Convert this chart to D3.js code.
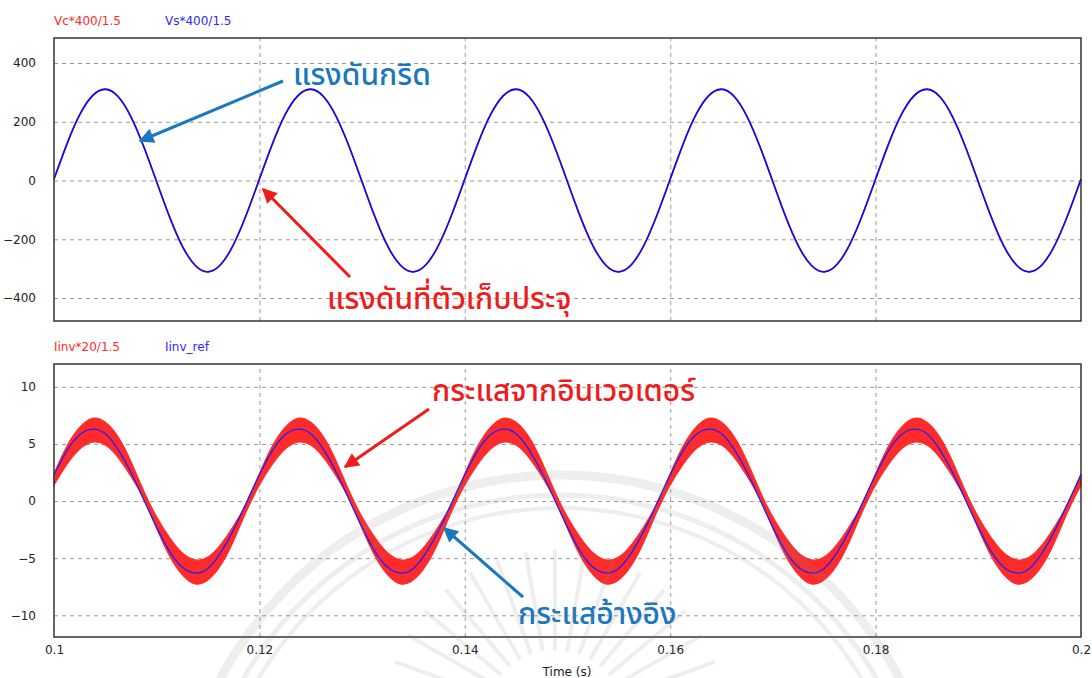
<!DOCTYPE html>
<meta charset="utf-8">
<style>
body { margin: 0; background: #fff; }
text { font-family: "DejaVu Sans", sans-serif; }
.grid line { stroke: #9a9a9a; stroke-dasharray: 4,4; }
.thai { font-family: "Noto Sans Thai", "Noto Sans", "Noto Sans CJK SC", sans-serif; }
</style>
<script src="https://d3js.org/d3.v7.min.js"></script>
<body>
<script>

// sample times: 0.1 s .. 0.2 s every 1.25 ms
var t0 = 0.1, dt = 0.00125;

var timeTicks = [0.1, 0.12, 0.14, 0.16, 0.18, 0.2];
var voltTicks = [400, 200, 0, -200, -400];
var currTicks = [10, 5, 0, -5, -10];

// Vc*400/1.5 and Vs*400/1.5 (V)
var vc = [4,122,223,288,310,286,217,115,-4,-122,-223,-288,-310,-286,-217,-115,
          4,122,223,288,310,286,217,115,-4,-122,-223,-288,-310,-286,-217,-115,
          4,122,223,288,310,286,217,115,-4,-122,-223,-288,-310,-286,-217,-115,
          4,122,223,288,310,286,217,115,-4,-122,-223,-288,-310,-286,-217,-115,
          4,122,223,288,310,286,217,115,-4,-122,-223,-288,-310,-286,-217,-115, 4];
var vs = [5,124,224,289,311,285,216,114,-5,-124,-224,-289,-311,-285,-216,-114,
          5,124,224,289,311,285,216,114,-5,-124,-224,-289,-311,-285,-216,-114,
          5,124,224,289,311,285,216,114,-5,-124,-224,-289,-311,-285,-216,-114,
          5,124,224,289,311,285,216,114,-5,-124,-224,-289,-311,-285,-216,-114,
          5,124,224,289,311,285,216,114,-5,-124,-224,-289,-311,-285,-216,-114, 5];

// Iinv*20/1.5 (centre of the switching band) and its ripple half-width, Iinv_ref (A)
var iinv = [1.9,4.0,5.5,6.2,5.9,4.7,2.8,0.5,-1.9,-4.0,-5.5,-6.2,-5.9,-4.7,-2.8,-0.5,
            1.9,4.0,5.5,6.2,5.9,4.7,2.8,0.5,-1.9,-4.0,-5.5,-6.2,-5.9,-4.7,-2.8,-0.5,
            1.9,4.0,5.5,6.2,5.9,4.7,2.8,0.5,-1.9,-4.0,-5.5,-6.2,-5.9,-4.7,-2.8,-0.5,
            1.9,4.0,5.5,6.2,5.9,4.7,2.8,0.5,-1.9,-4.0,-5.5,-6.2,-5.9,-4.7,-2.8,-0.5,
            1.9,4.0,5.5,6.2,5.9,4.7,2.8,0.5,-1.9,-4.0,-5.5,-6.2,-5.9,-4.7,-2.8,-0.5, 1.9];
var ripple = [0.5,0.8,0.95,1.05,1.0,0.9,0.65,0.35,0.5,0.8,0.95,1.05,1.0,0.9,0.65,0.35,
              0.5,0.8,0.95,1.05,1.0,0.9,0.65,0.35,0.5,0.8,0.95,1.05,1.0,0.9,0.65,0.35,
              0.5,0.8,0.95,1.05,1.0,0.9,0.65,0.35,0.5,0.8,0.95,1.05,1.0,0.9,0.65,0.35,
              0.5,0.8,0.95,1.05,1.0,0.9,0.65,0.35,0.5,0.8,0.95,1.05,1.0,0.9,0.65,0.35,
              0.5,0.8,0.95,1.05,1.0,0.9,0.65,0.35,0.5,0.8,0.95,1.05,1.0,0.9,0.65,0.35, 0.5];
var iref = [2.3,4.4,5.8,6.3,5.9,4.5,2.5,0.1,-2.3,-4.4,-5.8,-6.3,-5.9,-4.5,-2.5,-0.1,
            2.3,4.4,5.8,6.3,5.9,4.5,2.5,0.1,-2.3,-4.4,-5.8,-6.3,-5.9,-4.5,-2.5,-0.1,
            2.3,4.4,5.8,6.3,5.9,4.5,2.5,0.1,-2.3,-4.4,-5.8,-6.3,-5.9,-4.5,-2.5,-0.1,
            2.3,4.4,5.8,6.3,5.9,4.5,2.5,0.1,-2.3,-4.4,-5.8,-6.3,-5.9,-4.5,-2.5,-0.1,
            2.3,4.4,5.8,6.3,5.9,4.5,2.5,0.1,-2.3,-4.4,-5.8,-6.3,-5.9,-4.5,-2.5,-0.1, 2.3];

var width = 1092, height = 678;

var svg = d3.select("body").append("svg")
    .attr("width", width)
    .attr("height", height);

var defs = svg.append("defs");
[["arrRed", "#f01c1c"], ["arrBlue", "#1b78bf"]].forEach(function(m) {
  defs.append("marker")
      .attr("id", m[0])
      .attr("viewBox", "0 0 10 10")
      .attr("refX", 9).attr("refY", 5)
      .attr("markerWidth", 6.5).attr("markerHeight", 5)
      .attr("markerUnits", "strokeWidth")
      .attr("orient", "auto")
    .append("path")
      .attr("d", "M0,0L10,5L0,10z")
      .attr("fill", m[1]);
});

var x = d3.scaleLinear().domain([0.1, 0.2]).range([54, 1081]);
var yV = d3.scaleLinear().domain([-478, 485]).range([321, 38]);
var yI = d3.scaleLinear().domain([-11.9, 12.0]).range([637, 364]);

function time(i) { return t0 + i * dt; }

function panel(y, ticks, top, bottom) {
  var g = svg.append("g");

  g.append("g")
      .attr("class", "grid")
      .attr("transform", "translate(0," + bottom + ")")
      .call(d3.axisBottom(x).tickValues([0.12, 0.14, 0.16, 0.18]).tickSize(-(bottom - top)).tickFormat(""))
      .call(function(s) { s.select(".domain").remove(); });

  g.append("g")
      .attr("class", "grid")
      .attr("transform", "translate(" + x.range()[0] + ",0)")
      .call(d3.axisLeft(y).tickValues(ticks).tickSize(-(x.range()[1] - x.range()[0])).tickFormat(""))
      .call(function(s) { s.select(".domain").remove(); });

  g.append("g")
      .attr("transform", "translate(" + (x.range()[0] - 18) + ",0)")
      .call(d3.axisLeft(y).tickValues(ticks).tickSize(0).tickPadding(0))
      .call(function(s) {
        s.select(".domain").remove();
        s.selectAll("text").attr("font-size", 12).attr("fill", "#222").attr("font-family", "DejaVu Sans");
      });

  return g;
}

function frame(top, bottom) {
  svg.append("rect")
      .attr("x", x.range()[0])
      .attr("y", top)
      .attr("width", x.range()[1] - x.range()[0])
      .attr("height", bottom - top)
      .attr("fill", "none")
      .attr("stroke", "#333")
      .attr("stroke-width", 1.5);
}

// ---- top panel: voltages
panel(yV, voltTicks, 38, 321);

var lineV = function(arr) {
  return d3.line()
      .x(function(d, i) { return x(time(i)); })
      .y(function(d) { return yV(d); })
      .curve(d3.curveNatural)(arr);
};

svg.append("path").attr("d", lineV(vc)).attr("fill", "none").attr("stroke", "#ff2020").attr("stroke-width", 1.5);
svg.append("path").attr("d", lineV(vs)).attr("fill", "none").attr("stroke", "#0a0aff").attr("stroke-width", 1.6);
frame(38, 321);

// ---- bottom panel: currents
panel(yI, currTicks, 364, 637);

var band = d3.area()
    .x(function(d, i) { return x(time(i)); })
    .y0(function(d, i) { return yI(d - ripple[i]); })
    .y1(function(d, i) { return yI(d + ripple[i]); })
    .curve(d3.curveNatural);

svg.append("path")
    .attr("d", band(iinv))
    .attr("fill", "#ff2a2a")
    .attr("stroke", "#ff2a2a")
    .attr("stroke-width", 1.2);

svg.append("path")
    .attr("d", d3.line()
        .x(function(d, i) { return x(time(i)); })
        .y(function(d) { return yI(d); })
        .curve(d3.curveNatural)(iref))
    .attr("fill", "none")
    .attr("stroke", "#2020ff")
    .attr("stroke-width", 1.3);

frame(364, 637);

// x axis labels
var xa = svg.append("g")
    .attr("transform", "translate(0,645)")
    .call(d3.axisBottom(x).tickValues(timeTicks).tickSize(0).tickPadding(0).tickFormat(d3.format("")));
xa.select(".domain").remove();
xa.selectAll("text").attr("font-size", 12).attr("fill", "#222").attr("font-family", "DejaVu Sans");

svg.append("text")
    .attr("x", 567).attr("y", 676)
    .attr("text-anchor", "middle")
    .attr("font-size", 12)
    .attr("fill", "#222")
    .text("Time (s)");

// legends
var legends = [
  { text: "Vc*400/1.5", x: 54, y: 25, color: "#ff2a2a" },
  { text: "Vs*400/1.5", x: 165, y: 25, color: "#2a2aff" },
  { text: "Iinv*20/1.5", x: 54, y: 351, color: "#ff2a2a" },
  { text: "Iinv_ref", x: 165, y: 351, color: "#2a2aff" }
];
svg.selectAll(".legend")
  .data(legends)
  .enter().append("text")
    .attr("class", "legend")
    .attr("x", function(d) { return d.x; })
    .attr("y", function(d) { return d.y; })
    .attr("font-size", 12)
    .attr("fill", function(d) { return d.color; })
    .text(function(d) { return d.text; });

// annotations
var notes = [
  { text: "แรงดันกริด", x: 293, y: 85, color: "#1b78bf", from: [283, 81], to: [140, 141] },
  { text: "แรงดันที่ตัวเก็บประจุ", x: 327, y: 309, color: "#f01c1c", from: [350, 277], to: [263, 189] },
  { text: "กระแสจากอินเวอเตอร์", x: 432, y: 401, color: "#f01c1c", from: [429, 409], to: [345, 467] },
  { text: "กระแสอ้างอิง", x: 518, y: 624, color: "#1b78bf", from: [523, 597], to: [444, 528] }
];

svg.selectAll(".arrow")
  .data(notes)
  .enter().append("line")
    .attr("class", "arrow")
    .attr("x1", function(d) { return d.from[0]; })
    .attr("y1", function(d) { return d.from[1]; })
    .attr("x2", function(d) { return d.to[0]; })
    .attr("y2", function(d) { return d.to[1]; })
    .attr("stroke", function(d) { return d.color; })
    .attr("stroke-width", 3)
    .attr("marker-end", function(d) { return d.color === "#f01c1c" ? "url(#arrRed)" : "url(#arrBlue)"; });

svg.selectAll(".note")
  .data(notes)
  .enter().append("text")
    .attr("class", "note thai")
    .attr("x", function(d) { return d.x; })
    .attr("y", function(d) { return d.y; })
    .attr("font-size", 30)
    .attr("font-weight", 500)
    .attr("fill", function(d) { return d.color; })
    .text(function(d) { return d.text; });

// faint emblem watermark over the lower part
var wm = svg.append("g")
    .attr("fill", "none")
    .attr("stroke", "#888")
    .attr("stroke-opacity", 0.14);

[[385, 9], [365, 5], [352, 4]].forEach(function(r) {
  wm.append("path")
      .attr("d", d3.arc()({ innerRadius: r[0], outerRadius: r[0], startAngle: -Math.PI / 2.1, endAngle: Math.PI / 2.1 }))
      .attr("transform", "translate(560,860)")
      .attr("stroke-width", r[1]);
});

d3.range(-70, 71, 10).forEach(function(a) {
  var rad = a * Math.PI / 180;
  wm.append("line")
      .attr("x1", 555 + 70 * Math.sin(rad))
      .attr("y1", 720 - 70 * Math.cos(rad))
      .attr("x2", 555 + 170 * Math.sin(rad))
      .attr("y2", 720 - 170 * Math.cos(rad))
      .attr("stroke-width", 4);
});

</script>
